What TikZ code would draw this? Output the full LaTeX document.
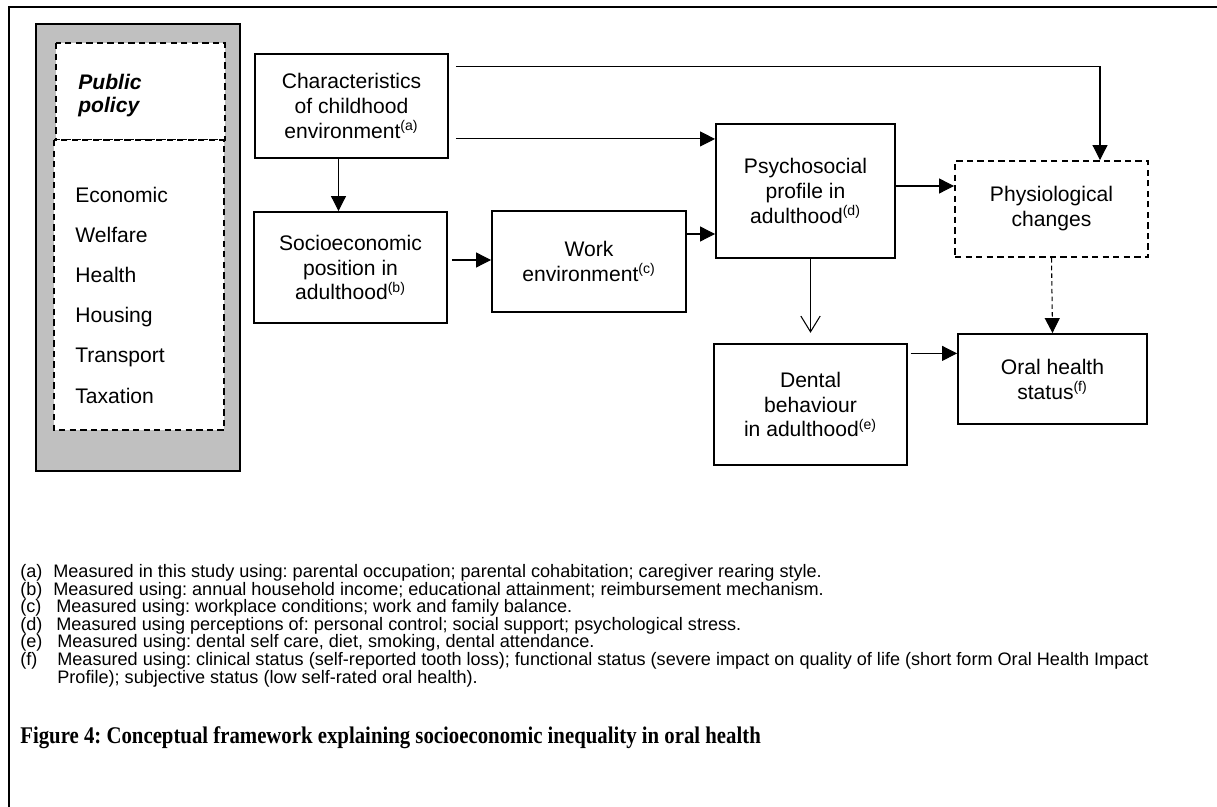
\documentclass[tikz,border=0pt]{standalone}
\usepackage{fontspec}
\setmainfont{Liberation Sans}
\newfontfamily\capfont{Liberation Serif}
\usetikzlibrary{arrows.meta,calc}
\definecolor{policygray}{RGB}{192,192,192}
\frenchspacing
\tikzset{
  box/.style={draw, line width=1.1pt, align=center, inner sep=0pt, font=\fontsize{12}{14.2}\selectfont},
  dashbox/.style={box, dash pattern=on 3.6pt off 2.4pt},
  arr/.style={line width=0.6pt, -{Triangle[length=8.5pt,width=8.5pt]}},
  openarr/.style={line width=0.6pt, -{Straight Barb[length=9pt,width=11pt]}},
  note/.style={anchor=base west, inner sep=0pt, font=\fontsize{10.3}{10}\selectfont}
}
\begin{document}
\begin{tikzpicture}[x=0.02cm,y=-0.02cm]
\useasboundingbox (0,0) rectangle (1217,807);
\draw[line width=1.2pt] (9,807) -- (9,7) -- (1217,7);
\draw[line width=0.9pt, fill=policygray] (36,24) rectangle (240,471);
\draw[fill=white, line width=0.9pt, dash pattern=on 3.6pt off 2.4pt] (56,43) rectangle (225,140);
\draw[fill=white, line width=0.9pt, dash pattern=on 3.6pt off 2.4pt] (54,140) rectangle (224,430);
\node[anchor=base west, align=left, inner sep=0pt, font=\fontsize{12}{13.6}\selectfont\bfseries\itshape] (policy) at (78,113) {Public\\policy};
\foreach \pol [count=\i] in {Economic,Welfare,Health,Housing,Transport,Taxation}
  \node[anchor=base west, inner sep=0pt, font=\fontsize{12}{14}\selectfont] (pol-\i) at (75,163+40*\i) {\pol};
\node[box, minimum width=3.86cm, minimum height=2.08cm] (child) at (351.5,106) {Characteristics\\of childhood\\environment\textsuperscript{(a)}};
\node[box, minimum width=3.86cm, minimum height=2.22cm] (socio) at (350.5,267.5) {Socioeconomic\\position in\\adulthood\textsuperscript{(b)}};
\node[box, minimum width=3.88cm, minimum height=2.02cm] (work) at (589,261.5) {Work\\environment\textsuperscript{(c)}};
\node[box, minimum width=3.58cm, minimum height=2.68cm] (psycho) at (805.5,191) {Psychosocial\\profile in\\adulthood\textsuperscript{(d)}};
\node[dashbox, minimum width=3.86cm, minimum height=1.92cm] (physio) at (1051.5,209) {Physiological\\changes};
\node[box, line width=0.7pt, minimum width=3.86cm, minimum height=2.42cm] (dental) at (810.5,404.5) {Dental\\behaviour\\in adulthood\textsuperscript{(e)}};
\node[box, minimum width=3.78cm, minimum height=1.80cm] (oral) at (1052.5,379) {Oral health\\status\textsuperscript{(f)}};
\draw[arr] (child.south) ++(-13,0) coordinate (c1) -- (c1 |- socio.north);
\draw[arr] (child.north east) ++(7,13) coordinate (c2) -| ($(physio.north)+(48.5,0)$);
\draw[arr] (child.south east) ++(7,-20) coordinate (c3) -- (c3 -| psycho.west);
\draw[arr] (socio.east) ++(4,-7.5) coordinate (c4) -- (c4 -| work.west);
\draw[arr] (work.east) ++(0,-27.5) coordinate (c5) -- (c5 -| psycho.west);
\draw[arr] (psycho.east) ++(0,-5) coordinate (c6) -- (c6 -| physio.west);
\draw[openarr, shorten >=6] (dental.north |- psycho.south) -- (dental.north);
\draw[arr] (dental.north east) ++(3,10) coordinate (c7) -- (c7 -| oral.west);
\draw[arr, dash pattern=on 2.6pt off 1.8pt] (physio.south) -- (oral.north);
\node[note] (la) at (20,577) {(a)};
\node[note] (ta) at (53,577) {Measured in this study using: parental occupation; parental cohabitation; caregiver rearing style.};
\node[note] (lb) at (20,595) {(b)};
\node[note] (tb) at (53,595) {Measured using: annual household income; educational attainment; reimbursement mechanism.};
\node[note] (lc) at (20,612) {(c)};
\node[note] (tc) at (56,612) {Measured using: workplace conditions; work and family balance.};
\node[note] (ld) at (20,630) {(d)};
\node[note] (td) at (56,630) {Measured using perceptions of: personal control; social support; psychological stress.};
\node[note] (le) at (20,647) {(e)};
\node[note] (te) at (57,647) {Measured using: dental self care, diet, smoking, dental attendance.};
\node[note] (lf) at (20,665) {(f)};
\node[note] (tf) at (57,665) {Measured using: clinical status (self-reported tooth loss); functional status (severe impact on quality of life (short form Oral Health Impact};
\node[note] (tf2) at (57,683) {Profile); subjective status (low self-rated oral health).};
\node[anchor=base west, inner sep=0pt, font=\capfont\bfseries\fontsize{13.6}{16}\selectfont] (caption) at (20,743) {\scalebox{0.87}[1]{Figure 4: Conceptual framework explaining socioeconomic inequality in oral health}};
\end{tikzpicture}
\end{document}
